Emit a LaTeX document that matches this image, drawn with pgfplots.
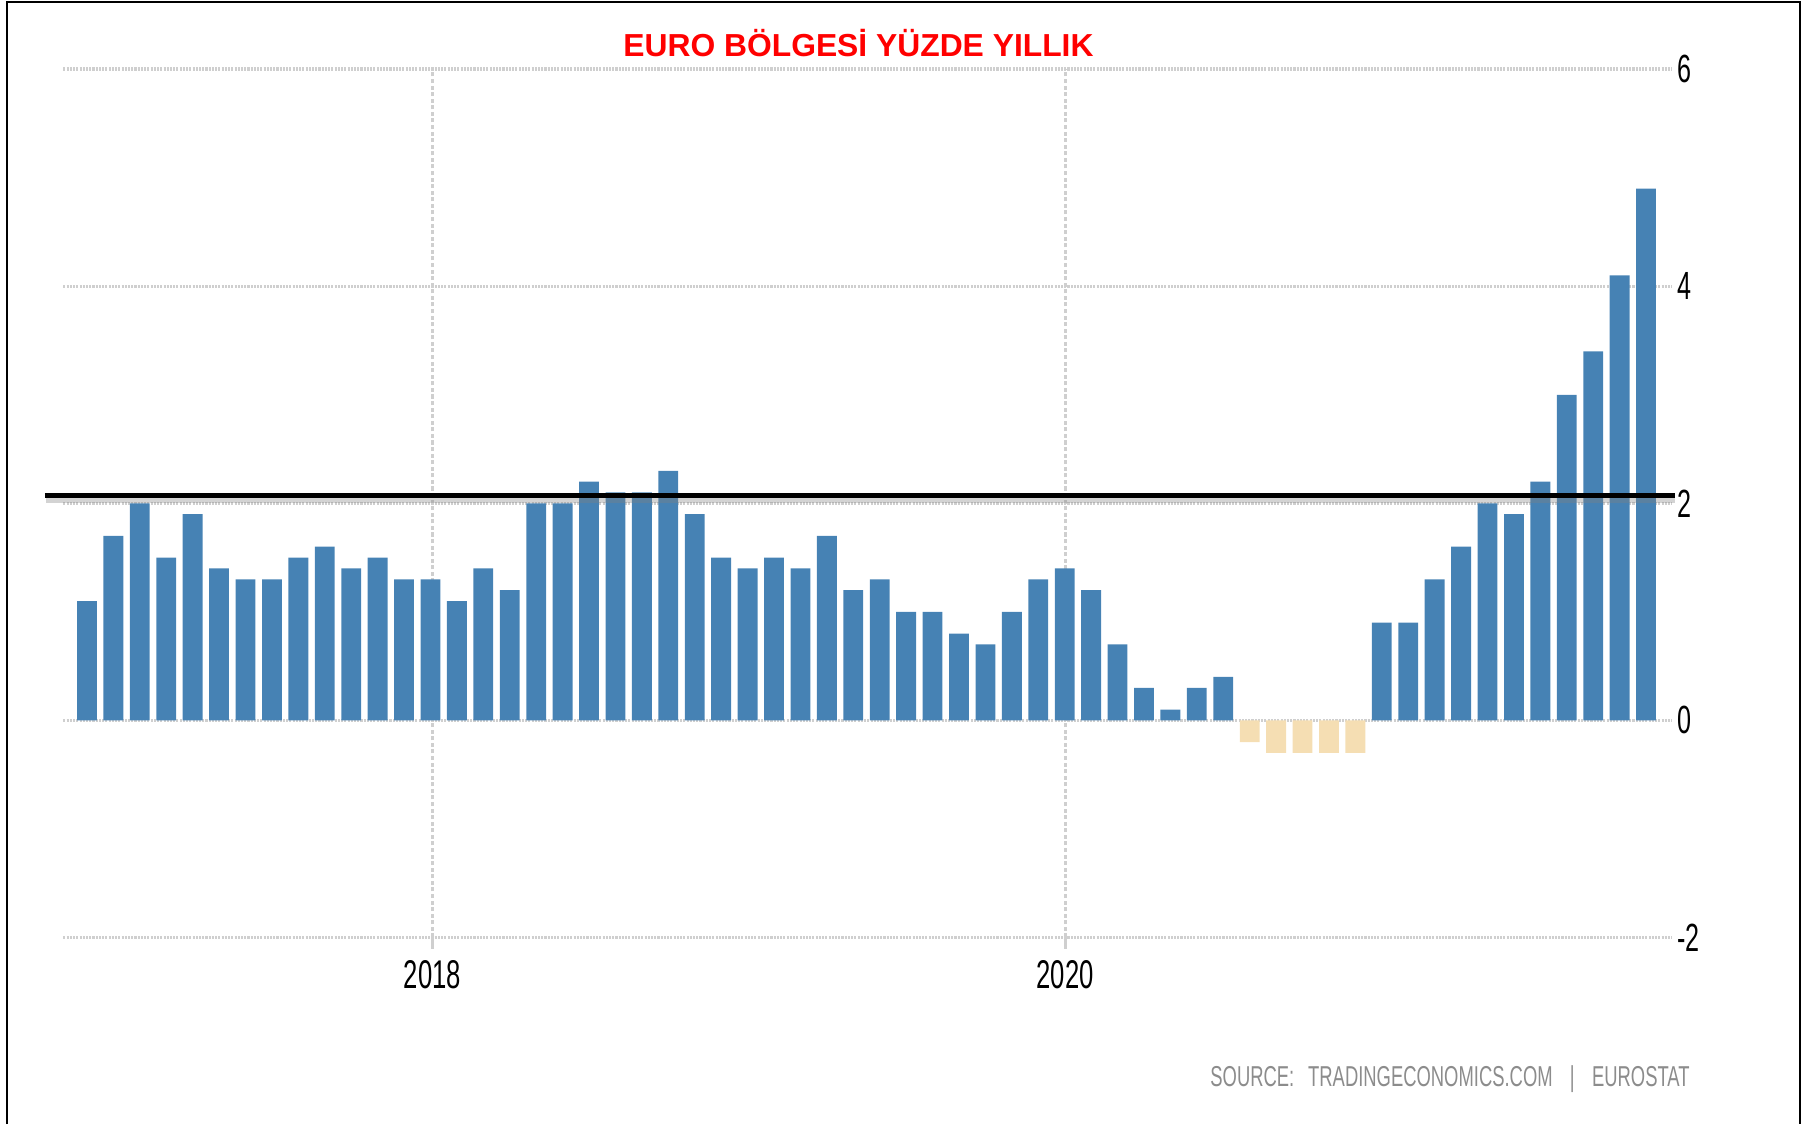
\documentclass[border=0pt]{standalone}
\usepackage{pgfplots}
\pgfplotsset{compat=1.18}
\usepackage{fontspec}
\setmainfont{Liberation Sans}
\newfontfamily\condfont[FakeStretch=0.64]{Liberation Sans}
\definecolor{barblue}{HTML}{4682B4}
\definecolor{barneg}{HTML}{F5DEB3}
\definecolor{gridgray}{HTML}{CFCFCF}
\definecolor{srcgray}{HTML}{8C8C8C}
\begin{document}
\begin{tikzpicture}
\path[use as bounding box] (0,0) rectangle (156.8mm,97.5mm);
\draw[line width=0.2mm, black] (0.6mm,0) -- (0.6mm,97.3mm) -- (156.1mm,97.3mm) -- (156.1mm,0);
\node[anchor=base, inner sep=0pt, font=\fontsize{7.85}{9}\selectfont\bfseries, text=red] at (74.45mm,92.6mm) {EURO BÖLGESİ YÜZDE YILLIK};
\node[anchor=base east, inner sep=0pt, font=\condfont\fontsize{7.1}{8}\selectfont, text=srcgray] at (146.6mm,3.3mm) {SOURCE:\hspace{1.2mm}TRADINGECONOMICS.COM\hspace{1.5mm}|\hspace{1.5mm}EUROSTAT};
\begin{axis}[
  at={(5.5mm,16.2mm)}, anchor=south west,
  scale only axis, width=139.5mm, height=75.3mm,
  xmin=-0.89, xmax=59.98, ymin=-2, ymax=6,
  axis line style={draw=none},
  xtick={13.07,37.02}, xticklabels={2018,2020},
  ytick={-2,0,2,4,6}, yticklabels={-2,0,2,4,6},
  yticklabel pos=right, xtick pos=lower,
  grid=major,
  x grid style={draw=gridgray, line width=0.28mm, dash pattern=on 0.35mm off 0.22mm},
  y grid style={draw=gridgray, line width=0.3mm, dash pattern=on 0.18mm off 0.1mm},
  xtick style={draw=gridgray, line width=0.28mm},
  ytick style={draw=none},
  tick align=outside, major tick length=1mm,
  xticklabel style={font=\condfont\fontsize{9.9}{10}\selectfont, inner sep=0pt, anchor=north, yshift=-0.9mm},
  yticklabel style={font=\condfont\fontsize{9.7}{10}\selectfont, inner sep=0pt, anchor=west, xshift=-0.6mm},
  clip=false,
]
\addplot[ybar, bar width=1.72mm, bar shift=0pt, fill=barblue, draw=none] coordinates {
(0,1.1) (1,1.7) (2,2.0) (3,1.5) (4,1.9) (5,1.4) (6,1.3) (7,1.3) (8,1.5) (9,1.6)
(10,1.4) (11,1.5) (12,1.3) (13,1.3) (14,1.1) (15,1.4) (16,1.2) (17,2.0) (18,2.0) (19,2.2)
(20,2.1) (21,2.1) (22,2.3) (23,1.9) (24,1.5) (25,1.4) (26,1.5) (27,1.4) (28,1.7) (29,1.2)
(30,1.3) (31,1.0) (32,1.0) (33,0.8) (34,0.7) (35,1.0) (36,1.3) (37,1.4) (38,1.2) (39,0.7)
(40,0.3) (41,0.1) (42,0.3) (43,0.4)
(49,0.9) (50,0.9) (51,1.3) (52,1.6) (53,2.0) (54,1.9) (55,2.2) (56,3.0) (57,3.4) (58,4.1) (59,4.9)
};
\addplot[ybar, bar width=1.72mm, bar shift=0pt, fill=barneg, draw=none] coordinates {
(44,-0.2) (45,-0.3) (46,-0.3) (47,-0.3) (48,-0.3)
};
\addplot[sharp plot, no markers, draw=gray, opacity=0.35, line width=0.55mm] coordinates {(-1.55,2.035) (60.1,2.035)};
\addplot[sharp plot, no markers, draw=black, line width=0.42mm] coordinates {(-1.59,2.07) (60.1,2.07)};
\end{axis}
\end{tikzpicture}
\end{document}
